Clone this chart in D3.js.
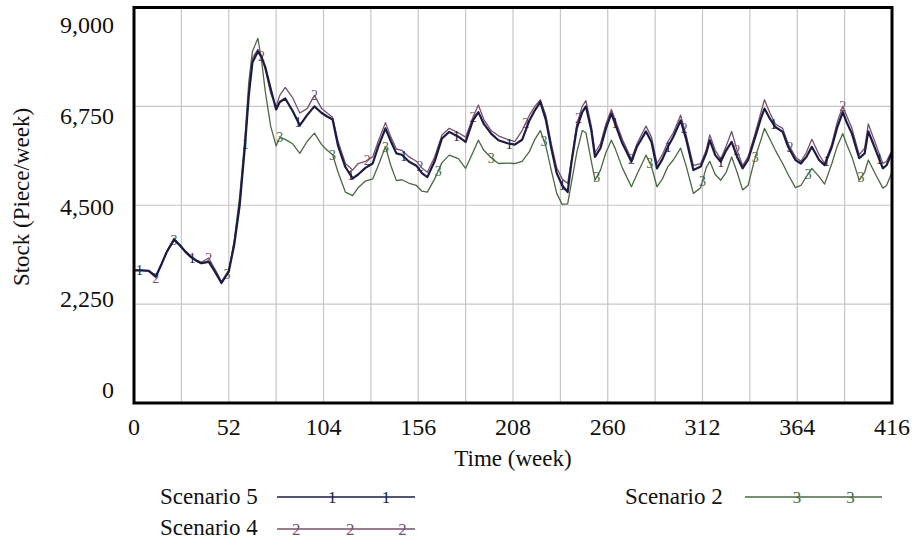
<!DOCTYPE html>
<html>
<head>
<meta charset="utf-8">
<script src="https://cdn.jsdelivr.net/npm/d3@7/dist/d3.min.js"></script>
<style>
  html, body { margin: 0; padding: 0; background: #fff; }
  svg { display: block; }
  text { font-family: "Liberation Serif", "Times New Roman", serif; fill: #111; }
</style>
</head>
<body>
<svg id="chart" width="915" height="545"></svg>
<script>
// Simulation output: stock level per week for three scenarios
const weeks = [0,4,8,12,15,18,22,25,28,31,34,37,41,45,48,52,55,58,61,63,65,68,70,72,75,78,80,83,87,91,95,99,103,106,109,112,116,120,123,127,131,134,138,141,144,147,151,155,158,161,165,169,173,178,182,186,189,192,196,200,205,209,213,217,220,223,226,229,232,235,238,240,243,246,248,251,253,256,259,262,264,268,273,276,281,284,287,290,293,296,300,303,307,311,314,316,319,322,325,328,331,334,337,341,344,346,349,352,356,359,363,366,369,372,376,379,383,386,389,391,394,398,401,403,407,411,413,416];

const scenario5 = [3020,3020,3010,2880,3150,3440,3720,3600,3450,3330,
  3250,3180,3220,2950,2730,2990,3600,4500,5900,7000,
  7750,8000,7870,7650,7150,6680,6850,6930,6650,6320,
  6550,6750,6600,6520,6450,5850,5370,5110,5200,5350,
  5450,5830,6250,5950,5680,5650,5490,5400,5230,5140,
  5500,6020,6170,6060,5940,6430,6620,6350,6130,5980,
  5910,5880,5990,6430,6660,6850,6450,5800,5230,4950,
  4800,5450,6250,6620,6750,6200,5600,5800,6250,6590,
  6360,5910,5490,5830,6180,5940,5340,5550,5830,6060,
  6430,6010,5300,5380,5680,5980,5640,5490,5750,5940,
  5600,5340,5530,6060,6470,6700,6470,6280,6170,5830,
  5530,5450,5600,5830,5530,5410,5830,6280,6620,6400,
  6130,5570,5680,6180,5760,5340,5410,5700];

const scenario4 = [3020,3020,3000,2850,3150,3450,3750,3600,3470,3350,
  3250,3200,3300,3000,2760,3020,3650,4550,5950,7050,
  7850,8050,7900,7600,7050,6750,7000,7180,6950,6600,
  6700,7000,6700,6600,6500,5950,5450,5300,5450,5500,
  5600,5950,6380,6050,5780,5750,5600,5500,5350,5250,
  5600,6100,6250,6150,6050,6500,6780,6450,6200,6080,
  6000,5950,6200,6550,6750,6900,6550,5900,5350,5100,
  5000,5500,6350,6750,6880,6300,5700,5900,6350,6680,
  6450,6000,5550,5900,6300,6050,5450,5650,5950,6150,
  6550,6100,5400,5450,5750,6100,5750,5550,5850,6180,
  5750,5400,5600,6150,6600,6900,6600,6350,6250,5900,
  5600,5500,5700,6000,5650,5450,5900,6400,6750,6550,
  6250,5650,5800,6350,5900,5450,5500,5750];

const scenario2 = [3020,3020,3010,2880,3150,3440,3700,3580,3440,3320,
  3230,3170,3200,2950,2730,3000,3700,4700,6100,7300,
  8000,8300,7800,7100,6300,5850,6040,6000,5900,5680,
  5950,6140,5880,5750,5650,5250,4800,4720,4900,5050,
  5100,5400,5830,5400,5060,5080,5000,4950,4820,4800,
  5100,5470,5640,5560,5340,5700,5980,5750,5580,5450,
  5460,5450,5500,5720,6000,6200,5850,5300,4770,4520,
  4530,5000,5700,6200,6150,5500,5070,5300,5700,5980,
  5800,5350,4920,5200,5640,5380,4920,5100,5380,5530,
  5800,5400,4770,4900,5350,5500,5200,5070,5250,5600,
  5250,4850,4950,5600,5980,6250,6000,5750,5450,5200,
  4900,4950,5150,5340,5150,4980,5450,5850,6130,5900,
  5600,5070,5250,5530,5200,4890,4950,5250];

// Series labels and the weeks where each line carries its number tag
const seriesNames = ["Scenario 5", "Scenario 4", "Scenario 2"];
const seriesTags = ["1", "2", "3"];
const tagWeeks5 = [3, 32, 61, 90, 119, 148, 177, 206, 235, 264, 293, 322, 351, 380, 409];
const tagWeeks4 = [12, 41, 70, 99, 128, 157, 186, 215, 244, 273, 302, 331, 360, 389];
const tagWeeks2 = [22, 51, 80, 109, 138, 167, 196, 225, 254, 283, 312, 341, 370, 399];

// Axis ticks
const xTicks = [0, 52, 104, 156, 208, 260, 312, 364, 416];
const xGrid = [26, 52, 78, 104, 130, 156, 182, 208, 234, 260, 286, 312, 338, 364, 390];
const yTicks = [0, 2250, 4500, 6750, 9000];
const yTickLabels = ["0", "2,250", "4,500", "6,750", "9,000"];
const xTitle = "Time (week)";
const yTitle = "Stock (Piece/week)";

const svg = d3.select("#chart");
const plot = { left: 134, right: 892, top: 7.5, bottom: 403 };

const x = d3.scaleLinear().domain([0, 416]).range([plot.left, plot.right]);
const y = d3.scaleLinear().domain([0, 9000]).range([plot.bottom, plot.top]);
// Vensim-style value labels sit on their own evenly spaced column
const yLabel = d3.scaleLinear().domain([0, 9000]).range([390, 25]);

// grid
const grid = svg.append("g").attr("stroke", "#c6c6c6").attr("stroke-width", 1.2);
grid.selectAll("line.v").data(xGrid).join("line")
  .attr("x1", d => x(d)).attr("x2", d => x(d))
  .attr("y1", plot.top).attr("y2", plot.bottom);
grid.selectAll("line.h").data(yTicks.slice(1, -1)).join("line")
  .attr("x1", plot.left).attr("x2", plot.right)
  .attr("y1", d => y(d)).attr("y2", d => y(d));

// series lines
const series = [
  { name: seriesNames[0], tag: seriesTags[0], values: scenario5, tags: tagWeeks5, color: "#1b1b45", width: 2.2 },
  { name: seriesNames[1], tag: seriesTags[1], values: scenario4, tags: tagWeeks4, color: "#77506c", width: 1.3 },
  { name: seriesNames[2], tag: seriesTags[2], values: scenario2, tags: tagWeeks2, color: "#4a6843", width: 1.3 }
];

const line = d3.line()
  .x(d => x(d[0]))
  .y(d => y(d[1]))
  .curve(d3.curveLinear);

const drawOrder = [2, 1, 0];
drawOrder.forEach(i => {
  const s = series[i];
  const pts = weeks.map((w, k) => [w, s.values[k]]);
  const path = svg.append("path")
    .datum(pts)
    .attr("fill", "none")
    .attr("stroke", s.color)
    .attr("stroke-width", s.width)
    .attr("stroke-linejoin", "round")
    .attr("d", line);

  // place number tags on the drawn curve at the given weeks
  const node = path.node();
  const total = node.getTotalLength();
  const pointAtX = tx => {
    let lo = 0, hi = total;
    for (let it = 0; it < 40; it++) {
      const mid = (lo + hi) / 2;
      if (node.getPointAtLength(mid).x < tx) lo = mid; else hi = mid;
    }
    return node.getPointAtLength((lo + hi) / 2);
  };
  svg.append("g").selectAll("text").data(s.tags).join("text")
    .each(function (w) {
      const p = pointAtX(x(w));
      d3.select(this).attr("x", p.x).attr("y", p.y);
    })
    .attr("text-anchor", "middle")
    .attr("dy", "0.35em")
    .attr("font-size", 14)
    .style("fill", s.color)
    .text(s.tag);
});

// frame
svg.append("rect")
  .attr("x", plot.left).attr("y", plot.top)
  .attr("width", plot.right - plot.left).attr("height", plot.bottom - plot.top)
  .attr("fill", "none").attr("stroke", "#000").attr("stroke-width", 3);

// y tick labels
svg.append("g").selectAll("text").data(yTicks).join("text")
  .attr("x", 114)
  .attr("y", d => yLabel(d))
  .attr("dy", "0.33em")
  .attr("text-anchor", "end")
  .attr("font-size", 24)
  .text((d, i) => yTickLabels[i]);

// x tick labels
svg.append("g").selectAll("text").data(xTicks).join("text")
  .attr("x", d => x(d))
  .attr("y", 435)
  .attr("text-anchor", "middle")
  .attr("font-size", 24)
  .text(d => d);

// axis titles
svg.append("text")
  .attr("x", x(208)).attr("y", 466)
  .attr("text-anchor", "middle")
  .attr("font-size", 23)
  .text(xTitle);

svg.append("text")
  .attr("transform", "translate(29,197) rotate(-90)")
  .attr("text-anchor", "middle")
  .attr("font-size", 23)
  .text(yTitle);

// legend
const legendItems = [
  { s: series[0], tx: 160, ty: 504, x1: 277, x2: 415, ly: 497, marks: [0.4, 0.79] },
  { s: series[1], tx: 160, ty: 535, x1: 277, x2: 415, ly: 529, marks: [0.14, 0.53, 0.91] },
  { s: series[2], tx: 625, ty: 504, x1: 745, x2: 882, ly: 497, marks: [0.38, 0.77] }
];
const lg = svg.append("g");
legendItems.forEach(it => {
  lg.append("text")
    .attr("x", it.tx).attr("y", it.ty)
    .attr("font-size", 23)
    .text(it.s.name);
  lg.append("line")
    .attr("x1", it.x1).attr("x2", it.x2)
    .attr("y1", it.ly).attr("y2", it.ly)
    .attr("stroke", it.s.color)
    .attr("stroke-width", it.s === series[0] ? 1.6 : 1.3);
  it.marks.forEach(f => {
    lg.append("text")
      .attr("x", it.x1 + f * (it.x2 - it.x1))
      .attr("y", it.ly)
      .attr("dy", "0.35em")
      .attr("text-anchor", "middle")
      .attr("font-size", 17)
      .style("fill", it.s.color)
      .text(it.s.tag);
  });
});
</script>
</body>
</html>
